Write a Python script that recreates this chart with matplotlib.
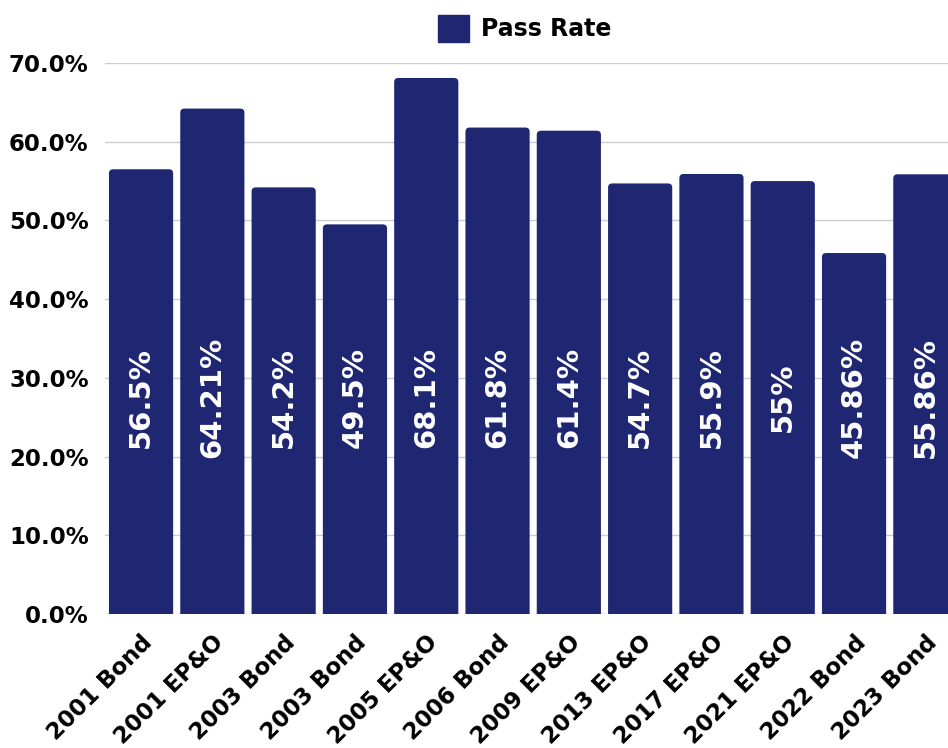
import matplotlib
matplotlib.use("Agg")
import matplotlib.pyplot as plt
from matplotlib.patches import FancyBboxPatch

categories = ["2001 Bond", "2001 EP&O", "2003 Bond", "2003 Bond", "2005 EP&O",
              "2006 Bond", "2009 EP&O", "2013 EP&O", "2017 EP&O", "2021 EP&O",
              "2022 Bond", "2023 Bond"]
pass_rate = [56.5, 64.21, 54.2, 49.5, 68.1, 61.8, 61.4, 54.7, 55.9, 55, 45.86, 55.86]
value_labels = ["56.5%", "64.21%", "54.2%", "49.5%", "68.1%", "61.8%", "61.4%",
                "54.7%", "55.9%", "55%", "45.86%", "55.86%"]
yticks = [0, 10, 20, 30, 40, 50, 60, 70]

navy = "#1f2672"
plt.rcParams['font.family'] = ['DejaVu Sans']
plt.rcParams['font.weight'] = 'bold'

fig = plt.figure(figsize=(9.48, 7.48), dpi=100)
ax = fig.add_axes([105.4 / 948, 134 / 748, 855.6 / 948, 551 / 748])

x = list(range(len(categories)))
bars = ax.bar(x, pass_rate, width=0.9, color=navy, label="Pass Rate", zorder=2)

# swap the plain rectangles for ones with slightly rounded tops
for rect in bars:
    bx, bw, bh = rect.get_x(), rect.get_width(), rect.get_height()
    rounded = FancyBboxPatch((bx, -2), bw, bh + 2,
                             boxstyle="round,pad=0,rounding_size=0.06",
                             mutation_aspect=8.5, facecolor=navy,
                             edgecolor="none", zorder=2)
    ax.add_patch(rounded)
    rect.set_visible(False)

for xi, lab in zip(x, value_labels):
    ax.text(xi, 27.5, lab, rotation=90, ha="center", va="center",
            color="white", fontsize=21, fontweight="bold", zorder=3)

ax.set_xlim(-0.5, len(categories) - 0.5)
ax.set_ylim(0, 70)
ax.set_yticks(yticks)
ax.set_yticklabels([f"{t:.1f}%" for t in yticks])
ax.set_xticks(x)
ax.set_xticklabels(categories, rotation=45, ha="right", va="top",
                   rotation_mode="anchor")
ax.tick_params(axis="both", length=0, labelsize=16.5, pad=12)
ax.grid(axis="y", color="#cccccc", linewidth=1, zorder=0)
for s in ax.spines.values():
    s.set_visible(False)

handle = plt.Rectangle((0, 0), 1, 1, color=navy)
ax.legend([handle], ["Pass Rate"], loc="lower center", bbox_to_anchor=(0.49, 1.0),
          frameon=False, fontsize=17, handlelength=1.35, handleheight=1.35,
          handletextpad=0.5, borderaxespad=0.5)

fig.savefig("out.png", dpi=100)
